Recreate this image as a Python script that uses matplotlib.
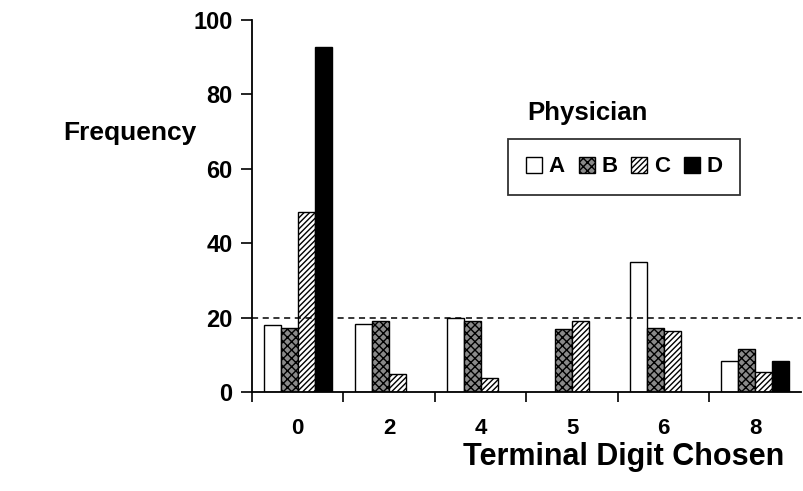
import matplotlib
matplotlib.use("Agg")
import matplotlib.pyplot as plt
import numpy as np

plt.rcParams["font.family"] = ["Liberation Sans", "DejaVu Sans"]
plt.rcParams["font.weight"] = "bold"
plt.rcParams["hatch.linewidth"] = 1.0

# terminal digits and counts per physician (nan = no bar)
digits = ["0", "2", "4", "5", "6", "8"]
phys_a = [18, 18.4, 20, np.nan, 35, 8.4]
phys_b = [17.2, 19, 19, 17, 17.3, 11.6]
phys_c = [48.4, 4.9, 3.8, 19.2, 16.3, 5.4]
phys_d = [92.7, np.nan, np.nan, np.nan, np.nan, 8.4]
expected = 20

series = [("A", phys_a, "white", ""),
          ("B", phys_b, "#8a8a8a", "xxxx"),
          ("C", phys_c, "white", "//////"),
          ("D", phys_d, "black", "")]

fig = plt.figure(figsize=(8.04, 4.91), dpi=100)
ax = fig.add_axes([252 / 804, 99 / 491, 549 / 804, 372 / 491])

x = np.arange(len(digits))
w = 0.186
for i, (name, vals, fc, hatch) in enumerate(series):
    ax.bar(x + (i - 1.5) * w, vals, width=w, facecolor=fc, edgecolor="black",
           hatch=hatch, linewidth=1.0, label=name)

ax.axhline(expected, color="black", linestyle=(0, (4, 3)), linewidth=1.1)

ax.set_xlim(-0.5, 5.5)
ax.set_ylim(0, 100)
ax.spines["top"].set_visible(False)
ax.spines["right"].set_visible(False)
ax.spines["left"].set_linewidth(1.3)
ax.spines["bottom"].set_linewidth(1.3)

ax.set_xticks(x)
ax.set_xticklabels(digits, fontsize=16, fontweight="bold")
ax.tick_params(axis="x", which="major", length=0, pad=19)
ax.set_xticks(np.arange(-0.5, 5.0, 1.0), minor=True)
ax.tick_params(axis="x", which="minor", length=7, width=1.2)
ax.set_yticks(np.arange(0, 101, 20))
ax.tick_params(axis="y", length=8, width=1.2, labelsize=17, pad=6)
for t in ax.get_yticklabels():
    t.set_fontweight("bold")

fig.text(63 / 804, 1 - 133 / 491, "Frequency", fontsize=19, fontweight="bold",
         ha="left", va="center")
fig.text(463 / 804, 1 - 457 / 491, "Terminal Digit Chosen", fontsize=22,
         fontweight="bold", ha="left", va="center")
fig.text(527 / 804, 1 - 113 / 491, "Physician", fontsize=18.5,
         fontweight="bold", ha="left", va="center")

leg = ax.legend(loc="center", bbox_to_anchor=(0.678, 0.605), ncol=4,
                fontsize=16, frameon=True, fancybox=False, handlelength=0.72,
                handleheight=0.72, handletextpad=0.3, columnspacing=0.62,
                borderpad=0.8, borderaxespad=0, edgecolor="black")
leg.get_frame().set_linewidth(1.3)
for t in leg.get_texts():
    t.set_fontweight("bold")

fig.savefig("out.png", dpi=100)
